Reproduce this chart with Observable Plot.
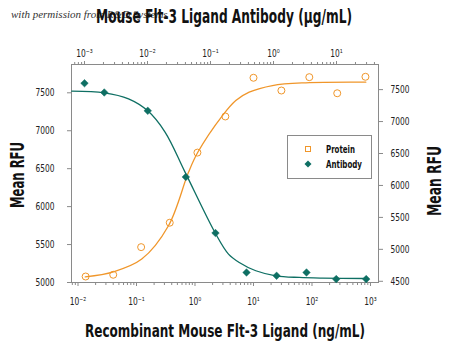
<!DOCTYPE html>
<html><head><meta charset="utf-8">
<script src="https://cdn.jsdelivr.net/npm/d3@7"></script>
<script src="https://cdn.jsdelivr.net/npm/@observablehq/plot@0.6"></script>
<style>
body{margin:0;background:#fff;}
#wrap{position:relative;width:450px;height:347px;overflow:hidden;font-family:"DejaVu Sans",sans-serif;color:#111;}
#wrap svg{position:absolute;left:0;top:0;}
.t{position:absolute;white-space:nowrap;font-weight:bold;line-height:1;}
</style></head><body><div id="wrap"></div>
<script>
// Protein (bottom x axis, ng/mL; left y axis)
const proteinConc = [0.0135, 0.04, 0.12, 0.37, 1.1, 3.3, 10, 30, 90, 270, 820];
const proteinRFU  = [5079, 5102, 5466, 5788, 6712, 7188, 7698, 7530, 7706, 7494, 7711];
const proteinFitConc = [0.0133, 0.0404, 0.123, 0.352, 0.774, 1.117, 2.95, 4.98, 8.44, 21.1, 78.4, 831];
const proteinFitRFU  = [5075, 5141, 5309, 5748, 6452, 6716, 7200, 7398, 7508, 7596, 7632, 7640];
// Antibody (top x axis, µg/mL; right y axis)
const antibodyConc = [0.001, 0.00206, 0.0101, 0.0406, 0.12, 0.373, 1.12, 3.34, 9.9, 29.6];
const antibodyRFU  = [7600, 7455, 7168, 6133, 5255, 4638, 4586, 4638, 4534, 4534];
const antibodyFitConc = [0.00063, 0.00206, 0.005, 0.0101, 0.0191, 0.0396, 0.119, 0.193, 0.286, 0.524, 1.09, 2.56, 6.0, 29.2];
const antibodyFitRFU  = [7475, 7450, 7356, 7168, 6832, 6205, 5255, 4926, 4795, 4665, 4586, 4560, 4550, 4544];
// Axes
const bottomTicks  = [0.01, 0.1, 1, 10, 100, 1000];
const bottomLabels = ["10⁻²", "10⁻¹", "10⁰", "10¹", "10²", "10³"];
const topTicks  = [0.001, 0.01, 0.1, 1, 10];
const topLabels = ["10⁻³", "10⁻²", "10⁻¹", "10⁰", "10¹"];
const leftTicks  = [5000, 5500, 6000, 6500, 7000, 7500];
const rightTicks = [4500, 5000, 5500, 6000, 6500, 7000, 7500];
const titleTop = "Mouse Flt-3 Ligand Antibody (μg/mL)";
const titleBottom = "Recombinant Mouse Flt-3 Ligand (ng/mL)";
const titleY = "Mean RFU";
const seriesNames = ["Protein", "Antibody"];
const watermark = "with permission from R&D Systems";

const ORANGE = "#F0962A", TEAL = "#0E6F63", AXIS = "#8a8a8a";
const W = 450, H = 347, mL = 71, mR = 72, mT = 64, mB = 65;
const FONT = '"DejaVu Sans",sans-serif';

function minors(majors, domain) {
  const out = [];
  const all = [majors[0] / 10, ...majors];
  for (const m of all) for (let k = 2; k <= 9; k++) {
    const v = m * k;
    if (v >= domain[0] && v <= domain[1]) out.push(v);
  }
  return out;
}
const fmt = (ticks, labels) => d => labels[ticks.indexOf(d)] ?? "";

const xBotDomain = [0.00774, 1371];
const xTopDomain = [0.000622, 46.4];

const base = {
  width: W, height: H, marginLeft: mL, marginRight: mR, marginTop: mT, marginBottom: mB,
  style: {background: "transparent", fontFamily: FONT, fontSize: "11px", color: "#222", overflow: "visible"}
};

const p1 = Plot.plot({
  ...base,
  x: {type: "log", domain: xBotDomain},
  y: {domain: [5000, 7873]},
  marks: [
    Plot.frame({stroke: AXIS}),
    Plot.axisX(minors(bottomTicks, xBotDomain), {anchor: "bottom", tickSize: 3, tickFormat: () => "", stroke: AXIS, label: null}),
    Plot.axisX(bottomTicks, {anchor: "bottom", tickSize: 4, tickPadding: 11, tickFormat: fmt(bottomTicks, bottomLabels), stroke: AXIS, fill: "#222", fontSize: 11, label: null}),
    Plot.axisY(leftTicks, {anchor: "left", tickSize: 4, tickPadding: 13, stroke: AXIS, fill: "#222", fontSize: 11, label: null, tickFormat: d => String(d)}),
    Plot.line(proteinFitConc.map((c, i) => ({c, v: proteinFitRFU[i]})), {x: "c", y: "v", stroke: ORANGE, strokeWidth: 1.3, curve: "catmull-rom"}),
    Plot.dot(proteinConc.map((c, i) => ({c, v: proteinRFU[i]})), {x: "c", y: "v", r: 3.5, stroke: ORANGE, strokeWidth: 1, fill: "none"})
  ]
});

const p2 = Plot.plot({
  ...base,
  x: {type: "log", domain: xTopDomain},
  y: {domain: [4481, 7893]},
  marks: [
    Plot.axisX(minors(topTicks, xTopDomain), {anchor: "top", tickSize: 3, tickFormat: () => "", stroke: AXIS, label: null}),
    Plot.axisX(topTicks, {anchor: "top", tickSize: 4, tickPadding: 4, tickFormat: fmt(topTicks, topLabels), stroke: AXIS, fill: "#222", fontSize: 11, label: null}),
    Plot.axisY(rightTicks, {anchor: "right", tickSize: 4, tickPadding: 8, stroke: AXIS, fill: "#222", fontSize: 11, label: null, tickFormat: d => String(d)}),
    Plot.line(antibodyFitConc.map((c, i) => ({c, v: antibodyFitRFU[i]})), {x: "c", y: "v", stroke: TEAL, strokeWidth: 1.3, curve: "catmull-rom"}),
    Plot.dot(antibodyConc.map((c, i) => ({c, v: antibodyRFU[i]})), {x: "c", y: "v", r: 3.4, symbol: "diamond2", fill: TEAL, stroke: TEAL, strokeWidth: 0.5})
  ]
});

const wrap = document.getElementById("wrap");
wrap.appendChild(p1);
wrap.appendChild(p2);

// condense tick labels (narrow font look)
for (const svg of [p1, p2]) {
  svg.querySelectorAll("text").forEach(t => {
    const s = t.textContent;
    if (!s) return;
    const w = t.getComputedTextLength();
    t.setAttribute("textLength", (w * 0.68).toFixed(1));
    t.setAttribute("lengthAdjust", "spacingAndGlyphs");
  });
}

function addText(txt, css, targetW, extra = "") {
  const d = document.createElement("div");
  d.className = "t";
  d.textContent = txt;
  Object.assign(d.style, css);
  wrap.appendChild(d);
  const w = d.getBoundingClientRect().width;
  const s = targetW ? targetW / w : 1;
  d.style.transform = `translate(-50%,-50%) ${extra} scaleX(${s})`;
  return d;
}
const wm = document.createElement("div");
wm.textContent = watermark;
Object.assign(wm.style, {position: "absolute", left: "11px", top: "9px", fontSize: "11px", fontStyle: "italic", fontFamily: '"Liberation Serif","DejaVu Serif",serif', color: "#333", whiteSpace: "nowrap", lineHeight: "1"});
wrap.appendChild(wm);
addText(titleTop, {left: "224px", top: "16px", fontSize: "20px"}, 256);
addText(titleBottom, {left: "225px", top: "331px", fontSize: "18px"}, 280);
addText(titleY, {left: "17px", top: "175px", fontSize: "20px"}, 66, "rotate(-90deg)");
addText(titleY, {left: "434px", top: "181px", fontSize: "20px"}, 70, "rotate(-90deg)");

// Legend
const leg = document.createElement("div");
Object.assign(leg.style, {position: "absolute", left: "287px", top: "135px", width: "85px", height: "44px", border: "1px solid #8a8a8a", background: "#fff", boxSizing: "border-box"});
leg.innerHTML = `
<svg width="83" height="42" style="position:absolute;left:0;top:0;overflow:visible">
  <rect x="17.5" y="10.5" width="5" height="5" fill="none" stroke="${ORANGE}" stroke-width="1"/>
  <path d="M20,24.5 L23.5,28 L20,31.5 L16.5,28 Z" fill="${TEAL}"/>
  <text x="38" y="17" font-family='${FONT}' font-size="10" font-weight="bold" fill="#111" textLength="29" lengthAdjust="spacingAndGlyphs">${seriesNames[0]}</text>
  <text x="38" y="32" font-family='${FONT}' font-size="10" font-weight="bold" fill="#111" textLength="36" lengthAdjust="spacingAndGlyphs">${seriesNames[1]}</text>
</svg>`;
wrap.appendChild(leg);
</script>
</body></html>
